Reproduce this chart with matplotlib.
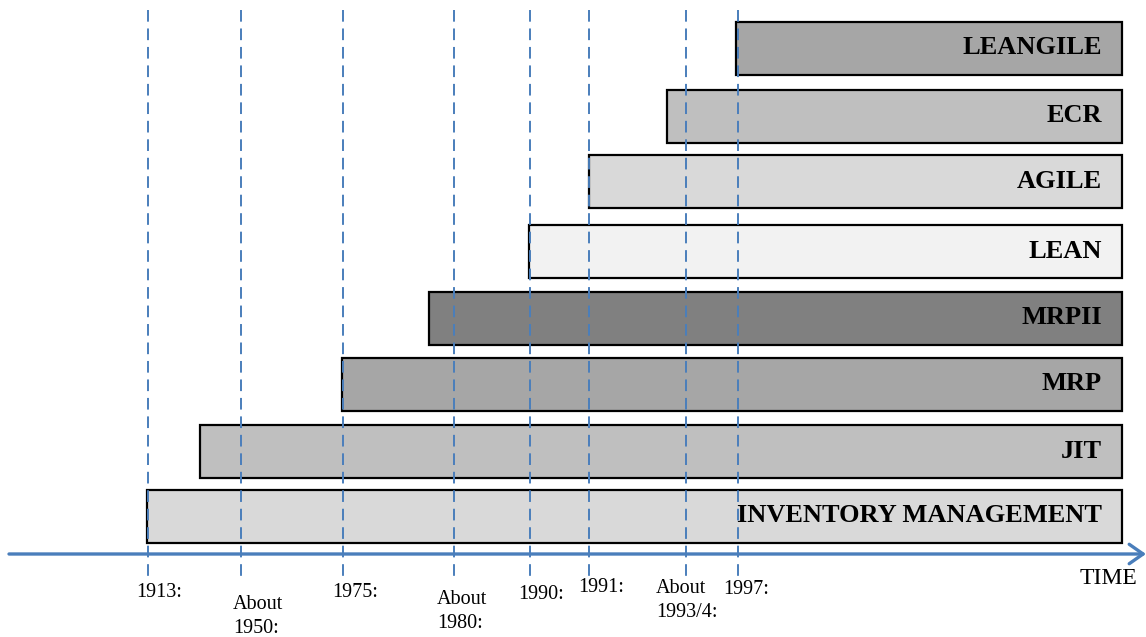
import matplotlib.pyplot as plt

# timeline (horizontal position on the drawing, left to right)
events = [['1913:'], ['About', '1950:'], ['1975:'], ['About', '1980:'], ['1990:'], ['1991:'],
          ['About', '1993/4:'], ['1997:']]
event_x = [148, 241, 343, 454, 530, 589, 686, 738]

# bars, bottom to top
concepts = ['INVENTORY MANAGEMENT', 'JIT', 'MRP', 'MRPII', 'LEAN', 'AGILE', 'ECR', 'LEANGILE']
starts = [147, 200, 342, 429, 529, 589, 667, 736]
end = 1122
colors = ['#d9d9d9', '#bfbfbf', '#a6a6a6', '#808080', '#f2f2f2', '#d9d9d9', '#bfbfbf', '#a6a6a6']

# layout
row_y = [516, 451, 384, 318, 251, 181, 116, 48]
bar_h = 53
lab_left = [136, 233, 332, 437, 518, 578, 656, 723]
lab_base = [597, 609, 597, 604, 599, 592, 593, 594]
pitch = 24
blue = '#4a7ebb'

fig = plt.figure(figsize=(11.46, 6.37), dpi=100)
ax = fig.add_axes([0, 0, 1, 1])
ax.set_xlim(0, 1146)
ax.set_ylim(637, 0)
ax.axis('off')

ax.barh(row_y, [end - s for s in starts], left=starts, height=bar_h,
        color=colors, edgecolor='black', linewidth=1.6, zorder=2)
for name, y in zip(concepts, row_y):
    ax.text(1102, y, name, ha='right', va='center', fontsize=19,
            fontweight='bold', family='Liberation Serif', zorder=4)

for x in event_x:
    ax.plot([x, x], [10, 577], color=blue, lw=1.4, ls=(0, (6, 3.5)), zorder=3)

for lines, x, y in zip(events, lab_left, lab_base):
    for i, line in enumerate(lines):
        ax.text(x, y + i * pitch, line, ha='left', va='baseline', fontsize=14.5,
                family='Liberation Serif')

ax.annotate('', xy=(1146, 554), xytext=(9, 554),
            arrowprops=dict(arrowstyle='->,head_length=1.0,head_width=0.7',
                            color=blue, lw=2.4, shrinkA=0, shrinkB=0), zorder=5)
ax.text(1108, 584, 'TIME', ha='center', va='baseline', fontsize=17,
        family='Liberation Serif')

fig.savefig('out.png')
